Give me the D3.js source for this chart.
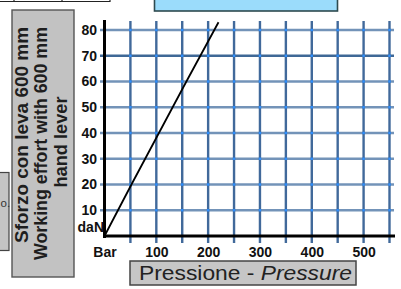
<!DOCTYPE html>
<html>
<head>
<meta charset="utf-8">
<script src="https://cdn.jsdelivr.net/npm/d3@7"></script>
<style>
  html, body { margin: 0; padding: 0; background: #fff; }
  svg { display: block; font-family: "Liberation Sans", Arial, Helvetica, sans-serif; }
</style>
</head>
<body>
<svg id="chart" width="401" height="289"></svg>
<script>
// values
const pressure = [0, 52, 105, 158, 220];
const effort = [0, 20, 40, 60, 83];

const yTicks = [10, 20, 30, 40, 50, 60, 70, 80];
const xGridTicks = [50, 100, 150, 200, 250, 300, 350, 400, 450, 500, 550];
const xLabelTicks = [0, 100, 200, 300, 400, 500];
const xTickLabels = ['Bar', '100', '200', '300', '400', '500'];

const yTitleLines = ['Sforzo con leva 600 mm', 'Working effort with 600 mm', 'hand lever'];
const xTitleParts = ['Pressione - ', 'Pressure'];

const svg = d3.select('#chart');

const x = d3.scaleLinear().domain([0, 550]).range([104.5, 389.5]);
const y = d3.scaleLinear().domain([0, 80]).range([236, 30]);

// bits of other panels cut off at the edges
svg.append('path')
   .attr('d', 'M0,1.5H110M14,0V2M62,0V2M110,0V2')
   .attr('stroke', '#222').attr('stroke-width', 1.2).attr('fill', 'none');

svg.append('rect')
   .attr('x', 154.5).attr('y', -3).attr('width', 183).attr('height', 14)
   .attr('fill', '#9bdcfb').attr('stroke', '#2e4a4f').attr('stroke-width', 1.6);

svg.append('rect')
   .attr('x', -3).attr('y', 172.5).attr('width', 12).attr('height', 78)
   .attr('fill', '#c4c4c4').attr('stroke', '#444').attr('stroke-width', 1.2);
svg.append('text')
   .attr('x', 0.5).attr('y', 207)
   .attr('font-size', 11.5).attr('fill', '#333').text('o.');

// y title box
svg.append('rect')
   .attr('x', 12).attr('y', 10).attr('width', 62).attr('height', 267)
   .attr('fill', '#c2c2c2').attr('stroke', '#555').attr('stroke-width', 1.4);

const yTitlePos = [{ b: 27.5, c: 135, len: 216 }, { b: 47, c: 143.5, len: 233 }, { b: 67, c: 142, len: 91 }];
svg.selectAll('.ytitle')
   .data(yTitleLines)
   .enter()
   .append('text')
   .attr('class', 'ytitle')
   .attr('transform', (d, i) => `translate(${yTitlePos[i].b},${yTitlePos[i].c}) rotate(-90)`)
   .attr('text-anchor', 'middle')
   .attr('font-size', 18.5)
   .attr('font-weight', 'bold')
   .attr('fill', '#1e1e1e')
   .attr('textLength', (d, i) => yTitlePos[i].len)
   .attr('lengthAdjust', 'spacingAndGlyphs')
   .text((d) => d);

// grid
svg.selectAll('.hgrid')
   .data(yTicks)
   .enter()
   .append('line')
   .attr('class', 'hgrid')
   .attr('x1', 100).attr('x2', 394)
   .attr('y1', (d) => y(d)).attr('y2', (d) => y(d))
   .attr('stroke', (d) => d === 70 ? '#3f6896' : '#7393b8')
   .attr('stroke-width', 2.4);

svg.selectAll('.vgrid')
   .data(xGridTicks)
   .enter()
   .append('line')
   .attr('class', 'vgrid')
   .attr('x1', (d) => x(d)).attr('x2', (d) => x(d))
   .attr('y1', 21).attr('y2', 243)
   .attr('stroke', '#41699a')
   .attr('stroke-width', 2.4);

const crossings = [];
xGridTicks.forEach((gx) => yTicks.forEach((gy) => crossings.push([gx, gy])));
svg.selectAll('.dot')
   .data(crossings)
   .enter()
   .append('rect')
   .attr('class', 'dot')
   .attr('x', (d) => x(d[0]) - 1.2).attr('y', (d) => y(d[1]) - 1.2)
   .attr('width', 2.4).attr('height', 2.4)
   .attr('fill', '#2d8fff');

// axes lines
svg.append('line')
   .attr('x1', x(0)).attr('x2', x(0)).attr('y1', 20).attr('y2', 238)
   .attr('stroke', '#000').attr('stroke-width', 3);
svg.append('line')
   .attr('x1', 103).attr('x2', 395).attr('y1', y(0)).attr('y2', y(0))
   .attr('stroke', '#000').attr('stroke-width', 3);

// tick labels through d3 axes
const yAxis = svg.append('g')
   .attr('transform', 'translate(97,0)')
   .call(d3.axisLeft(y).tickValues(yTicks).tickSize(0).tickPadding(0));
const xAxis = svg.append('g')
   .attr('transform', 'translate(0,247)')
   .call(d3.axisBottom(x).tickValues(xLabelTicks).tickSize(0).tickPadding(0)
     .tickFormat((d, i) => xTickLabels[i]));

[yAxis, xAxis].forEach((g) => {
  g.select('.domain').remove();
  g.selectAll('text')
   .attr('font-family', '"Liberation Sans", Arial, sans-serif')
   .attr('font-size', 14)
   .attr('font-weight', 'bold')
   .attr('fill', '#111');
});

svg.append('text')
   .attr('x', 104).attr('y', 232)
   .attr('text-anchor', 'end')
   .attr('font-size', 14).attr('font-weight', 'bold').attr('fill', '#111')
   .text('daN');

// effort line
const line = d3.line()
   .x((d, i) => x(pressure[i]))
   .y((d) => y(d));

svg.append('path')
   .datum(effort)
   .attr('d', line)
   .attr('fill', 'none')
   .attr('stroke', '#000')
   .attr('stroke-width', 1.8);

// x title box
svg.append('rect')
   .attr('x', 130).attr('y', 261).attr('width', 226).attr('height', 24)
   .attr('fill', '#c6c6c6').attr('stroke', '#444').attr('stroke-width', 1.5);

const xTitle = svg.append('text')
   .attr('x', 139).attr('y', 280)
   .attr('font-size', 19.5)
   .attr('fill', '#222')
   .attr('textLength', 213)
   .attr('lengthAdjust', 'spacingAndGlyphs');
xTitle.selectAll('tspan')
   .data(xTitleParts)
   .enter()
   .append('tspan')
   .attr('font-style', (d, i) => i === 1 ? 'italic' : 'normal')
   .text((d) => d);
</script>
</body>
</html>
